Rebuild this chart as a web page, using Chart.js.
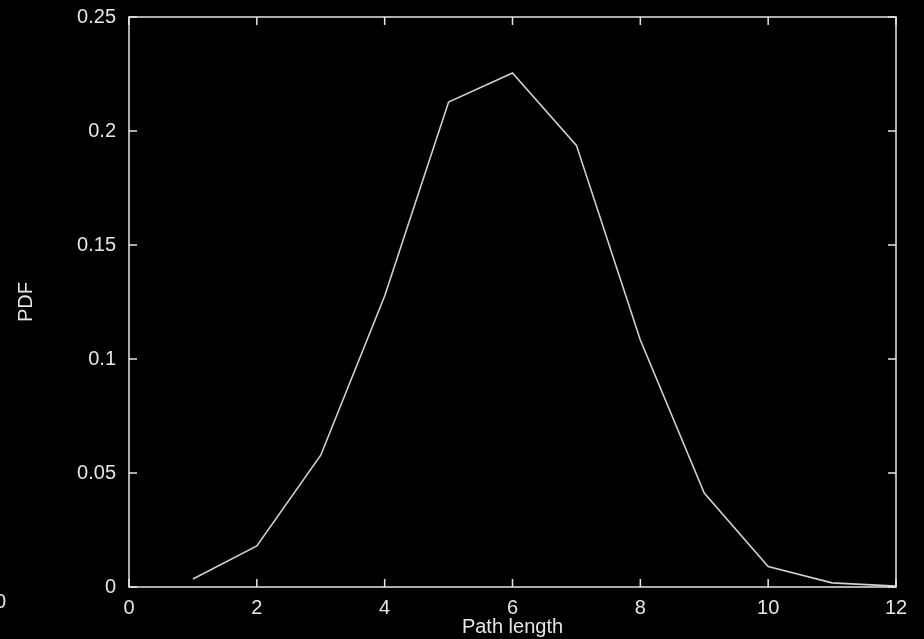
<!DOCTYPE html>
<html>
<head>
<meta charset="utf-8">
<script src="https://cdn.jsdelivr.net/npm/chart.js@4"></script>
<style>
  html, body { margin: 0; padding: 0; background: #000; }
  #wrap { width: 924px; height: 639px; }
</style>
</head>
<body>
<div id="wrap"><canvas id="pdfChart" width="924" height="639"></canvas></div>
<script>
// path length distribution
const pathLengths = [1, 2, 3, 4, 5, 6, 7, 8, 9, 10, 11, 12];
const pdfValues = [0.0035, 0.018, 0.0578, 0.1276, 0.2127, 0.2254, 0.1937, 0.1083, 0.0412, 0.009, 0.0018, 0.0004];

const xTicks = [0, 2, 4, 6, 8, 10, 12];
const yTicks = [0, 0.05, 0.1, 0.15, 0.2, 0.25];

const fg = '#e6e6e6';
const font = { family: 'Liberation Sans, Arial, sans-serif', size: 20 };

// gnuplot style frame: box all round, ticks pointing inwards on every side
const framePlugin = {
  id: 'frame',
  afterDraw(chart) {
    const { ctx, chartArea: a, scales } = chart;
    const len = 8;
    ctx.save();
    ctx.strokeStyle = fg;
    ctx.lineWidth = 1.5;
    ctx.strokeRect(a.left, a.top, a.right - a.left, a.bottom - a.top);
    ctx.beginPath();
    xTicks.forEach(v => {
      const x = scales.x.getPixelForValue(v);
      ctx.moveTo(x, a.bottom); ctx.lineTo(x, a.bottom - len);
      ctx.moveTo(x, a.top); ctx.lineTo(x, a.top + len);
    });
    yTicks.forEach(v => {
      const y = scales.y.getPixelForValue(v);
      ctx.moveTo(a.left, y); ctx.lineTo(a.left + len, y);
      ctx.moveTo(a.right, y); ctx.lineTo(a.right - len, y);
    });
    ctx.stroke();
    // stray label at the far left edge
    ctx.fillStyle = fg;
    ctx.font = font.size + 'px ' + font.family;
    ctx.textAlign = 'right';
    ctx.textBaseline = 'middle';
    ctx.fillText('0', 6, 602);
    ctx.restore();
  }
};

new Chart(document.getElementById('pdfChart'), {
  type: 'line',
  data: {
    datasets: [{
      data: pathLengths.map((x, i) => ({ x: x, y: pdfValues[i] })),
      borderColor: '#d0d0d0',
      borderWidth: 1.6,
      pointRadius: 0,
      tension: 0,
      fill: false
    }]
  },
  options: {
    responsive: false,
    animation: false,
    layout: { padding: { left: 0, right: 28, top: 17, bottom: 0 } },
    plugins: { legend: { display: false }, tooltip: { enabled: false } },
    scales: {
      x: {
        type: 'linear',
        min: 0,
        max: 12,
        afterBuildTicks: s => { s.ticks = xTicks.map(v => ({ value: v })); },
        afterFit: s => { s.height = 52; s.paddingLeft = 0; s.paddingRight = 0; },
        grid: { display: false },
        border: { display: false },
        ticks: { color: fg, font: font, padding: 1, maxRotation: 0, callback: v => String(v) },
        title: { display: true, text: 'Path length', color: fg, font: font, padding: { top: 0, bottom: 0 } }
      },
      y: {
        min: 0,
        max: 0.25,
        afterBuildTicks: s => { s.ticks = yTicks.map(v => ({ value: v })); },
        afterFit: s => { s.width = 129; s.paddingTop = 0; s.paddingBottom = 0; },
        grid: { display: false },
        border: { display: false },
        ticks: { color: fg, font: font, padding: 5, callback: v => String(v) },
        title: { display: true, text: 'PDF', color: fg, font: font, padding: { top: 14, bottom: 0 } }
      }
    }
  },
  plugins: [framePlugin]
});
</script>
</body>
</html>
